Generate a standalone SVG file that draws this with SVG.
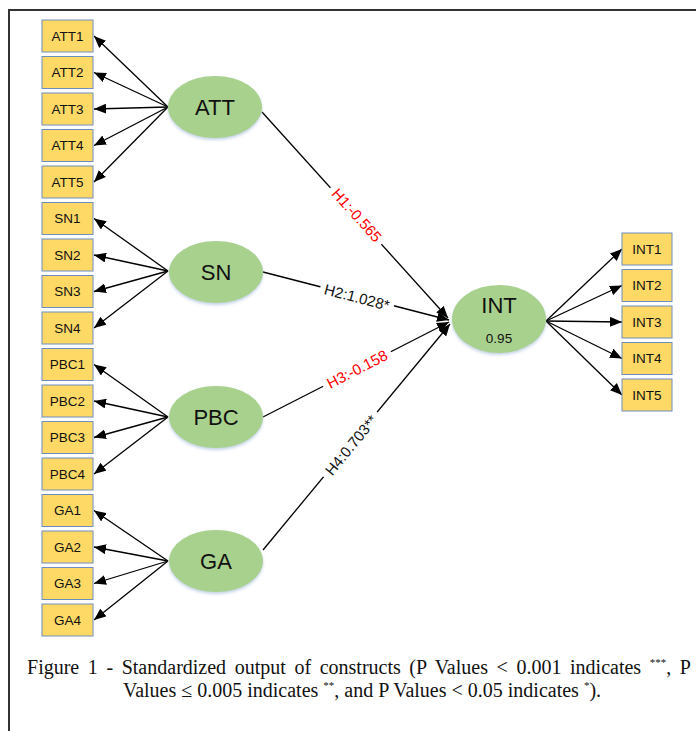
<svg xmlns="http://www.w3.org/2000/svg" width="696" height="731" viewBox="0 0 696 731">
<style>
.box{fill:#FFD966;stroke:#6F8DC0;stroke-width:1}
.bt{font-family:"Liberation Sans",Arial,sans-serif;font-size:13.5px;fill:#111;text-anchor:middle}
.ell{fill:#A9D18E;stroke:none}
.et{font-family:"Liberation Sans",Arial,sans-serif;font-size:22px;fill:#111;text-anchor:middle}
.ln{stroke:#000;stroke-width:1.3;fill:none;marker-end:url(#ah)}
.lbl{font-family:"Liberation Sans",Arial,sans-serif;font-size:15px;text-anchor:middle}
.lbg{fill:#fff}
.cap{font-family:"Liberation Serif","Times New Roman",serif;font-size:20px;fill:#111;text-anchor:middle}
</style>
<defs>
<marker id="ah" markerUnits="userSpaceOnUse" markerWidth="12" markerHeight="10" refX="12" refY="5" orient="auto">
<path d="M0,0 L12,5 L0,10 z" fill="#000"/>
</marker>
<filter id="sh" x="-20%" y="-20%" width="140%" height="150%">
<feDropShadow dx="0" dy="2" stdDeviation="1.5" flood-color="#9fb7d6" flood-opacity="0.6"/>
</filter>
</defs>
<rect x="0" y="0" width="696" height="731" fill="#fff"/>
<path d="M9,731 V10 H696" stroke="#333" stroke-width="2" fill="none"/>

<g id="connectors">
<line class="ln" x1="168" y1="107" x2="94" y2="36"/>
<line class="ln" x1="168" y1="107" x2="94" y2="72.5"/>
<line class="ln" x1="168" y1="107" x2="94" y2="109"/>
<line class="ln" x1="168" y1="107" x2="94" y2="145.5"/>
<line class="ln" x1="168" y1="107" x2="94" y2="182"/>
<line class="ln" x1="168" y1="271" x2="94" y2="218.5"/>
<line class="ln" x1="168" y1="271" x2="94" y2="255"/>
<line class="ln" x1="168" y1="271" x2="94" y2="291.5"/>
<line class="ln" x1="168" y1="271" x2="94" y2="328"/>
<line class="ln" x1="168" y1="417" x2="94" y2="364.5"/>
<line class="ln" x1="168" y1="417" x2="94" y2="401"/>
<line class="ln" x1="168" y1="417" x2="94" y2="437.5"/>
<line class="ln" x1="168" y1="417" x2="94" y2="474"/>
<line class="ln" x1="168" y1="561" x2="94" y2="510.5"/>
<line class="ln" x1="168" y1="561" x2="94" y2="547"/>
<line class="ln" x1="168" y1="561" x2="94" y2="583.5"/>
<line class="ln" x1="168" y1="561" x2="94" y2="620"/>
<line class="ln" x1="546" y1="321" x2="622" y2="249"/>
<line class="ln" x1="546" y1="321" x2="622" y2="285.5"/>
<line class="ln" x1="546" y1="321" x2="622" y2="322"/>
<line class="ln" x1="546" y1="321" x2="622" y2="358.5"/>
<line class="ln" x1="546" y1="321" x2="622" y2="395"/>
<line class="ln" x1="262" y1="112" x2="448" y2="318"/>
<line class="ln" x1="263" y1="272" x2="449" y2="320"/>
<line class="ln" x1="263" y1="417" x2="449" y2="322"/>
<line class="ln" x1="263" y1="550" x2="450" y2="324"/>
<g transform="translate(357,215) rotate(48)"><rect class="lbg" x="-38" y="-8" width="76" height="16"/><text class="lbl" fill="#FF0000" y="5.5">H1:-0.565</text></g>
<g transform="translate(357,297) rotate(14.6)"><rect class="lbg" x="-38" y="-8" width="76" height="16"/><text class="lbl" fill="#111" y="5.5">H2:1.028*</text></g>
<g transform="translate(357,369) rotate(-27.3)"><rect class="lbg" x="-38" y="-8" width="76" height="16"/><text class="lbl" fill="#FF0000" y="5.5">H3:-0.158</text></g>
<g transform="translate(351,445) rotate(-50.5)"><rect class="lbg" x="-42" y="-8" width="84" height="16"/><text class="lbl" fill="#111" y="5.5">H4:0.703**</text></g>
</g>

<g id="ATT"><ellipse class="ell" filter="url(#sh)" cx="215" cy="107" rx="47" ry="31"/><text class="et" x="215" y="115">ATT</text></g>
<g id="SN"><ellipse class="ell" filter="url(#sh)" cx="216" cy="272" rx="47" ry="31"/><text class="et" x="216" y="280">SN</text></g>
<g id="PBC"><ellipse class="ell" filter="url(#sh)" cx="216" cy="417" rx="47" ry="31"/><text class="et" x="216" y="425">PBC</text></g>
<g id="GA"><ellipse class="ell" filter="url(#sh)" cx="216" cy="561" rx="47" ry="31"/><text class="et" x="216" y="569">GA</text></g>
<g id="INT"><ellipse class="ell" filter="url(#sh)" cx="499" cy="319" rx="47" ry="34"/><text class="et" x="499" y="313">INT</text><text class="bt" x="499" y="343">0.95</text></g>

<g id="ATT1"><rect class="box" x="42" y="20" width="51" height="32"/><text class="bt" x="67.5" y="40.5">ATT1</text></g>
<g id="ATT2"><rect class="box" x="42" y="56.5" width="51" height="32"/><text class="bt" x="67.5" y="77">ATT2</text></g>
<g id="ATT3"><rect class="box" x="42" y="93" width="51" height="32"/><text class="bt" x="67.5" y="113.5">ATT3</text></g>
<g id="ATT4"><rect class="box" x="42" y="129.5" width="51" height="32"/><text class="bt" x="67.5" y="150">ATT4</text></g>
<g id="ATT5"><rect class="box" x="42" y="166" width="51" height="32"/><text class="bt" x="67.5" y="186.5">ATT5</text></g>
<g id="SN1"><rect class="box" x="42" y="202.5" width="51" height="32"/><text class="bt" x="67.5" y="223">SN1</text></g>
<g id="SN2"><rect class="box" x="42" y="239" width="51" height="32"/><text class="bt" x="67.5" y="259.5">SN2</text></g>
<g id="SN3"><rect class="box" x="42" y="275.5" width="51" height="32"/><text class="bt" x="67.5" y="296">SN3</text></g>
<g id="SN4"><rect class="box" x="42" y="312" width="51" height="32"/><text class="bt" x="67.5" y="332.5">SN4</text></g>
<g id="PBC1"><rect class="box" x="42" y="348.5" width="51" height="32"/><text class="bt" x="67.5" y="369">PBC1</text></g>
<g id="PBC2"><rect class="box" x="42" y="385" width="51" height="32"/><text class="bt" x="67.5" y="405.5">PBC2</text></g>
<g id="PBC3"><rect class="box" x="42" y="421.5" width="51" height="32"/><text class="bt" x="67.5" y="442">PBC3</text></g>
<g id="PBC4"><rect class="box" x="42" y="458" width="51" height="32"/><text class="bt" x="67.5" y="478.5">PBC4</text></g>
<g id="GA1"><rect class="box" x="42" y="494.5" width="51" height="32"/><text class="bt" x="67.5" y="515">GA1</text></g>
<g id="GA2"><rect class="box" x="42" y="531" width="51" height="32"/><text class="bt" x="67.5" y="551.5">GA2</text></g>
<g id="GA3"><rect class="box" x="42" y="567.5" width="51" height="32"/><text class="bt" x="67.5" y="588">GA3</text></g>
<g id="GA4"><rect class="box" x="42" y="604" width="51" height="32"/><text class="bt" x="67.5" y="624.5">GA4</text></g>
<g id="INT1"><rect class="box" x="622" y="233" width="50" height="32"/><text class="bt" x="647" y="253.5">INT1</text></g>
<g id="INT2"><rect class="box" x="622" y="269.5" width="50" height="32"/><text class="bt" x="647" y="290">INT2</text></g>
<g id="INT3"><rect class="box" x="622" y="306" width="50" height="32"/><text class="bt" x="647" y="326.5">INT3</text></g>
<g id="INT4"><rect class="box" x="622" y="342.5" width="50" height="32"/><text class="bt" x="647" y="363">INT4</text></g>
<g id="INT5"><rect class="box" x="622" y="379" width="50" height="32"/><text class="bt" x="647" y="399.5">INT5</text></g>

<g id="caption">
<text class="cap" x="359" y="674" word-spacing="3.6">Figure 1 - Standardized output of constructs (P Values &lt; 0.001 indicates <tspan font-size="11" dy="-8">***</tspan><tspan dy="8">, P</tspan></text>
<text class="cap" x="362" y="697">Values ≤ 0.005 indicates <tspan font-size="11" dy="-8">**</tspan><tspan dy="8">, and P Values &lt; 0.05 indicates </tspan><tspan font-size="11" dy="-8">*</tspan><tspan dy="8">).</tspan></text>
</g>
</svg>
